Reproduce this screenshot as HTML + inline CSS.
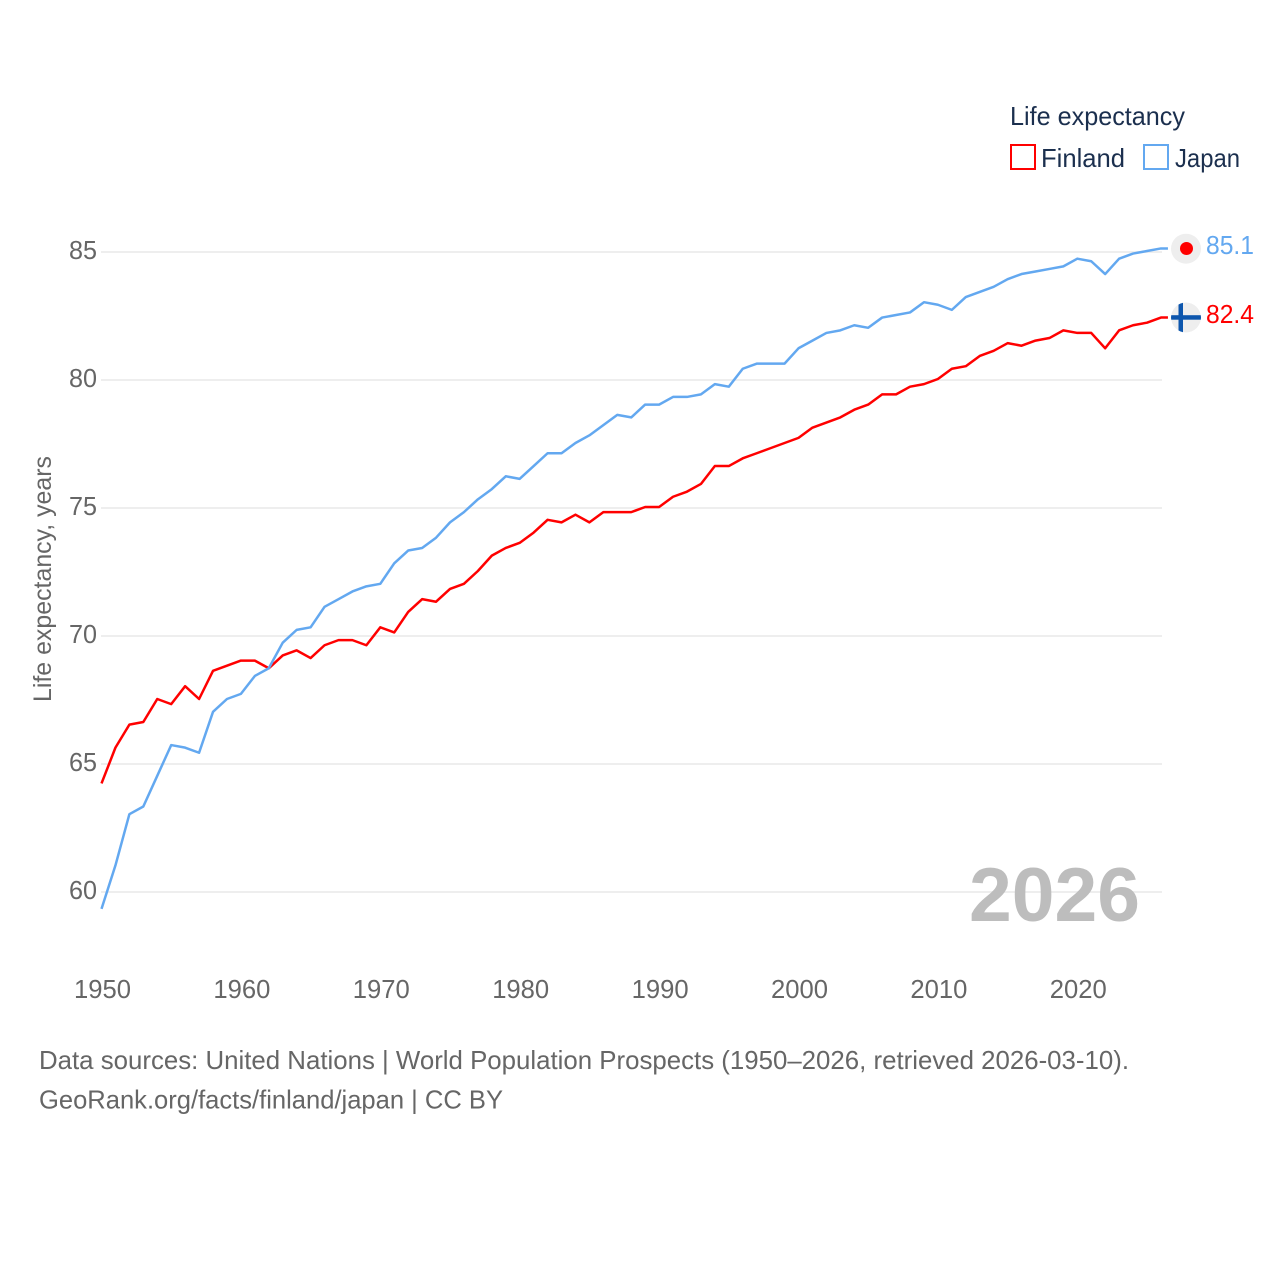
<!DOCTYPE html>
<html lang="en">
<head>
<meta charset="utf-8">
<title>Life expectancy: Finland and Japan</title>
<style>
html,body{margin:0;padding:0;background:#fff;}
svg{display:block;font-family:"Liberation Sans",sans-serif;}
</style>
</head>
<body>
<svg id="chart" width="1280" height="1280" viewBox="0 0 1280 1280" xmlns="http://www.w3.org/2000/svg">
  <g id="grid"></g>
  <g id="yticks"></g>
  <g id="xticks"></g>
  <text transform="translate(51,702) rotate(-90)" font-size="25" fill="#666" textLength="246" lengthAdjust="spacingAndGlyphs">Life expectancy, years</text>
  <text x="969" y="921" font-size="76" font-weight="700" fill="#bdbdbd" textLength="171" lengthAdjust="spacingAndGlyphs">2026</text>
  <g id="series"></g>

  <g>
    <text x="1010" y="125" font-size="26" fill="#1b2f4e" textLength="175" lengthAdjust="spacingAndGlyphs">Life expectancy</text>
    <rect x="1011" y="145" width="24" height="24" fill="none" stroke="#ff0000" stroke-width="2"/>
    <text x="1041" y="167" font-size="26" fill="#1b2f4e" textLength="84" lengthAdjust="spacingAndGlyphs">Finland</text>
    <rect x="1144" y="145" width="24" height="24" fill="none" stroke="#63a8f0" stroke-width="2"/>
    <text x="1175" y="167" font-size="26" fill="#1b2f4e" textLength="65" lengthAdjust="spacingAndGlyphs">Japan</text>
  </g>

  <defs>
    <clipPath id="fi-clip"><circle cx="1186" cy="317.500" r="15"/></clipPath>
  </defs>
  <g id="flag-japan">
    <circle cx="1186" cy="248.700" r="15" fill="#eeeeee"/>
    <circle cx="1186.500" cy="248.500" r="6.500" fill="#ff0000"/>
  </g>
  <g id="flag-finland" clip-path="url(#fi-clip)">
    <circle cx="1186" cy="317.500" r="15" fill="#eeeeee"/>
    <rect x="1171" y="315.200" width="30" height="4.500" fill="#0d56ad"/>
    <rect x="1178.500" y="302" width="4.500" height="31" fill="#0d56ad"/>
  </g>
  <text id="value-japan" x="1206" y="254" font-size="26" fill="#63a8f0" textLength="48" lengthAdjust="spacingAndGlyphs">85.1</text>
  <text id="value-finland" x="1206" y="323" font-size="26" fill="#ff0000" textLength="48" lengthAdjust="spacingAndGlyphs">82.4</text>

  <g>
    <text x="39" y="1069" font-size="26" fill="#666" textLength="1090" lengthAdjust="spacingAndGlyphs">Data sources: United Nations | World Population Prospects (1950–2026, retrieved 2026-03-10).</text>
    <text x="39" y="1108.500" font-size="26" fill="#666" textLength="464" lengthAdjust="spacingAndGlyphs">GeoRank.org/facts/finland/japan | CC BY</text>
  </g>
</svg>
<script>
const startYear = 1950;
const yTickValues = [60, 65, 70, 75, 80, 85];
const xTickValues = [1950, 1960, 1970, 1980, 1990, 2000, 2010, 2020];
const finlandValues = [64.2,65.6,66.5,66.6,67.5,67.3,68.0,67.5,68.6,68.8,69.0,69.0,68.7,69.2,69.4,69.1,69.6,69.8,69.8,69.6,70.3,70.1,70.9,71.4,71.3,71.8,72.0,72.5,73.1,73.4,73.6,74.0,74.5,74.4,74.7,74.4,74.8,74.8,74.8,75.0,75.0,75.4,75.6,75.9,76.6,76.6,76.9,77.1,77.3,77.5,77.7,78.1,78.3,78.5,78.8,79.0,79.4,79.4,79.7,79.8,80.0,80.4,80.5,80.9,81.1,81.4,81.3,81.5,81.6,81.9,81.8,81.8,81.2,81.9,82.1,82.2,82.4];
const japanValues = [59.3,61.0,63.0,63.3,64.5,65.7,65.6,65.4,67.0,67.5,67.7,68.4,68.7,69.7,70.2,70.3,71.1,71.4,71.7,71.9,72.0,72.8,73.3,73.4,73.8,74.4,74.8,75.3,75.7,76.2,76.1,76.6,77.1,77.1,77.5,77.8,78.2,78.6,78.5,79.0,79.0,79.3,79.3,79.4,79.8,79.7,80.4,80.6,80.6,80.6,81.2,81.5,81.8,81.9,82.1,82.0,82.4,82.5,82.6,83.0,82.9,82.7,83.2,83.4,83.6,83.9,84.1,84.2,84.3,84.4,84.7,84.6,84.1,84.7,84.9,85.0,85.1];

const NS = 'http://www.w3.org/2000/svg';
function xScale(year) { return 101.5 + (year - 1950) * 13.94; }
function yScale(v) { return 892 - (v - 60) * 25.6; }

const gridG = document.getElementById('grid');
const yG = document.getElementById('yticks');
yTickValues.forEach(function (v) {
  const ln = document.createElementNS(NS, 'line');
  
  
  ln.setAttribute('x1', 101);
  ln.setAttribute('x2', 1162);
  ln.setAttribute('y1', yScale(v));
  ln.setAttribute('y2', yScale(v));
  ln.setAttribute('stroke', '#eeeeee');
  ln.setAttribute('stroke-width', 2);
  gridG.appendChild(ln);
  const t = document.createElementNS(NS, 'text');
  
  
  t.setAttribute('x', 69);
  t.setAttribute('y', yScale(v) + 7);
  t.setAttribute('font-size', 26);
  t.setAttribute('fill', '#666');
  t.setAttribute('textLength', 28);
  t.setAttribute('lengthAdjust', 'spacingAndGlyphs');
  t.textContent = v;
  yG.appendChild(t);
});

const xG = document.getElementById('xticks');
xTickValues.forEach(function (y) {
  const t = document.createElementNS(NS, 'text');
  
  
  t.setAttribute('x', xScale(y) - 27.5);
  t.setAttribute('y', 998);
  t.setAttribute('font-size', 26);
  t.setAttribute('fill', '#666');
  t.setAttribute('textLength', 57);
  t.setAttribute('lengthAdjust', 'spacingAndGlyphs');
  t.textContent = y;
  xG.appendChild(t);
});

function linePoints(values) {
  const pts = values.map(function (v, i) {
    return xScale(startYear + i).toFixed(2) + ',' + (yScale(v) - 1).toFixed(2);
  });
  const last = values[values.length - 1];
  pts.push((xScale(startYear + values.length - 1) + 7).toFixed(2) + ',' + (yScale(last) - 1).toFixed(2));
  return pts.join(' ');
}

const seriesG = document.getElementById('series');

const finlandLine = document.createElementNS(NS, 'polyline');


finlandLine.setAttribute('points', linePoints(finlandValues));
finlandLine.setAttribute('fill', 'none');
finlandLine.setAttribute('stroke', '#ff0000');
finlandLine.setAttribute('stroke-width', 2.5);
finlandLine.setAttribute('stroke-linejoin', 'round');
seriesG.appendChild(finlandLine);

const japanLine = document.createElementNS(NS, 'polyline');


japanLine.setAttribute('points', linePoints(japanValues));
japanLine.setAttribute('fill', 'none');
japanLine.setAttribute('stroke', '#63a8f0');
japanLine.setAttribute('stroke-width', 2.5);
japanLine.setAttribute('stroke-linejoin', 'round');
seriesG.appendChild(japanLine);
</script>
</body>
</html>
